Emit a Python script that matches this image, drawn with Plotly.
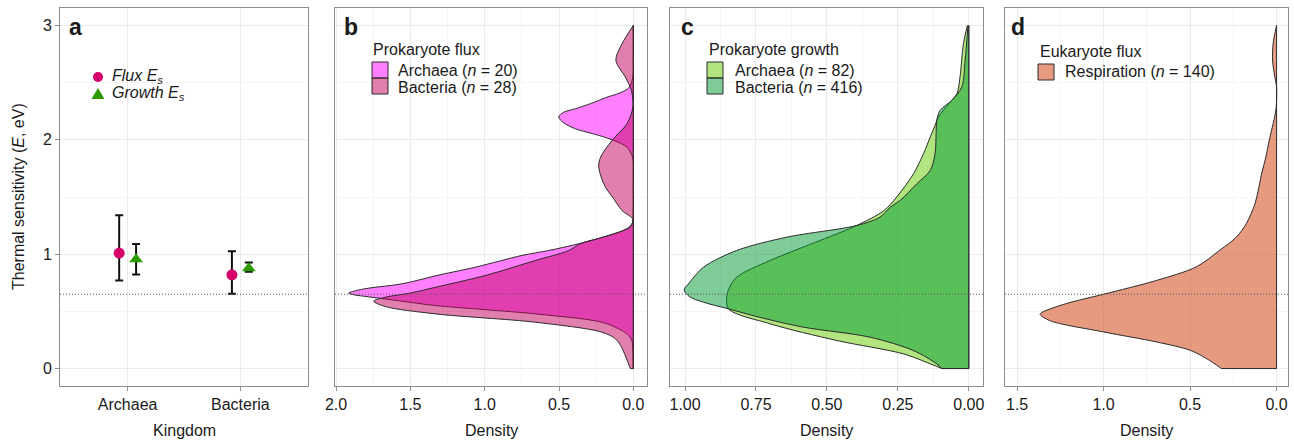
import plotly.graph_objects as go

W, H = 1294, 441

# ---------------- data ----------------
# Panel a: thermal sensitivity by kingdom
kingdoms = ["Archaea", "Bacteria"]
flux_es = [1.01, 0.82]
flux_lo = [0.77, 0.655]
flux_hi = [1.34, 1.025]
growth_es = [0.955, 0.878]
growth_lo = [0.822, 0.846]
growth_hi = [1.09, 0.927]
ref_e = 0.65

# Panel b: prokaryote flux densities (E, density)
arch_flux_e = [0.0, 0.2, 0.245, 0.3, 0.347, 0.405, 0.478, 0.551, 0.6, 0.627, 0.645, 0.659,
               0.68, 0.703, 0.741, 0.82, 0.886, 0.94, 0.989, 1.032, 1.06, 1.1, 1.15, 1.2,
               1.24, 1.28, 1.4, 1.6, 1.8, 1.849, 1.936, 1.995, 2.039, 2.097, 2.15, 2.199,
               2.24, 2.272, 2.32, 2.368, 2.41, 2.456, 2.55, 2.7, 3.0]
arch_flux_d = [0.0, 0.005, 0.01, 0.04, 0.099, 0.211, 0.659, 1.33, 1.62, 1.78, 1.88, 1.915,
               1.87, 1.78, 1.556, 1.3, 1.063, 0.9, 0.749, 0.57, 0.47, 0.34, 0.2, 0.08,
               0.025, 0.005, 0.0, 0.0, 0.0, 0.005, 0.043, 0.132, 0.233, 0.39, 0.47, 0.502,
               0.47, 0.39, 0.28, 0.188, 0.09, 0.03, 0.003, 0.0, 0.0]
bact_flux_e = [0.0, 0.1, 0.2, 0.26, 0.318, 0.405, 0.478, 0.542, 0.589, 0.624, 0.66,
               0.711, 0.814, 0.945, 1.032, 1.093, 1.15, 1.21, 1.236, 1.27, 1.31, 1.382,
               1.5, 1.586, 1.761, 1.849, 1.995, 2.14, 2.286, 2.432, 2.549, 2.695, 2.84, 3.0]
bact_flux_d = [0.02, 0.05, 0.085, 0.12, 0.211, 0.659, 1.33, 1.668, 1.746, 1.668, 1.5,
               1.33, 0.995, 0.659, 0.435, 0.354, 0.2, 0.063, 0.02, 0.005, 0.005, 0.076,
               0.14, 0.188, 0.233, 0.22, 0.143, 0.043, 0.003, 0.013, 0.054, 0.117, 0.076, 0.0]

# Panel c: prokaryote growth densities
arch_growth_e = [0.0, 0.041, 0.128, 0.245, 0.391, 0.522, 0.624, 0.7, 0.799, 0.945, 1.12,
                 1.251, 1.38, 1.5, 1.703, 1.878, 2.024, 2.126, 2.199, 2.33, 2.403, 2.549,
                 2.84, 3.0]
arch_growth_d = [0.095, 0.136, 0.23, 0.465, 0.7, 0.847, 0.853, 0.845, 0.818, 0.7, 0.524,
                 0.395, 0.3, 0.254, 0.195, 0.16, 0.136, 0.119, 0.107, 0.066, 0.042, 0.031,
                 0.019, 0.005]
bact_growth_e = [0.0, 0.041, 0.157, 0.274, 0.362, 0.45, 0.522, 0.58, 0.63, 0.688, 0.75,
                 0.886, 1.032, 1.149, 1.251, 1.324, 1.411, 1.47, 1.616, 1.732, 1.878, 2.082,
                 2.17, 2.257, 2.345, 2.461, 2.695, 3.0]
bact_growth_d = [0.095, 0.113, 0.195, 0.348, 0.583, 0.74, 0.847, 0.935, 0.985, 1.003, 0.985,
                 0.935, 0.818, 0.641, 0.395, 0.313, 0.277, 0.242, 0.183, 0.136, 0.119, 0.115,
                 0.113, 0.101, 0.06, 0.025, 0.013, 0.003]

# Panel d: eukaryote respiration density
resp_e = [0.0, 0.087, 0.16, 0.233, 0.32, 0.42, 0.475, 0.495, 0.568, 0.65, 0.77, 0.89, 1.035,
          1.15, 1.27, 1.44, 1.56, 1.70, 1.85, 2.0, 2.14, 2.26, 2.46, 2.55, 2.69, 2.84, 3.0]
resp_d = [0.318, 0.405, 0.50, 0.695, 1.0, 1.313, 1.367, 1.351, 1.216, 1.0, 0.695, 0.463,
          0.328, 0.232, 0.174, 0.125, 0.106, 0.087, 0.062, 0.042, 0.02, 0.004, 0.0, 0.01,
          0.023, 0.02, 0.0]

# ---------------- style ----------------
FONT = "Liberation Sans, Arial, sans-serif"
TXT = "#1a1a1a"
GRID = "#EBEBEB"
MINOR = "#F5F5F5"
BORDER = "#8c8c8c"
OUTLINE = "#2b2b2b"
COL_FLUX = "#D6006B"
COL_GROWTH = "#2E9A00"
C_ARCH_FLUX = "rgba(255,0,255,0.5)"
C_BACT_FLUX = "rgba(196,0,96,0.5)"
C_ARCH_GROW = "rgba(102,204,0,0.5)"
C_BACT_GROW = "rgba(0,153,51,0.5)"
C_RESP = "rgba(213,87,43,0.6)"


def fx(px):
    return px / W


def fy(py):
    return 1 - py / H


panels = [(60, 308), (335, 647), (670, 983), (1005, 1288)]
y_dom = [fy(385.7), fy(8.3)]
dodge = 0.075

fig = go.Figure()

# ---- panel a ----
xa = [i + 1 for i in range(len(kingdoms))]
fig.add_trace(go.Scatter(
    x=[v - dodge for v in xa], y=flux_es, mode="markers",
    marker=dict(symbol="circle", size=11, color=COL_FLUX),
    error_y=dict(type="data", symmetric=False,
                 array=[h - m for h, m in zip(flux_hi, flux_es)],
                 arrayminus=[m - l for m, l in zip(flux_es, flux_lo)],
                 color="#111111", thickness=2, width=4),
    xaxis="x", yaxis="y", showlegend=False, hoverinfo="skip"))
fig.add_trace(go.Scatter(
    x=[v + dodge for v in xa], y=growth_es, mode="markers",
    marker=dict(symbol="triangle-up", size=12, color=COL_GROWTH),
    error_y=dict(type="data", symmetric=False,
                 array=[h - m for h, m in zip(growth_hi, growth_es)],
                 arrayminus=[m - l for m, l in zip(growth_es, growth_lo)],
                 color="#111111", thickness=2, width=4),
    xaxis="x", yaxis="y", showlegend=False, hoverinfo="skip"))


def add_density(d, e, fill, ax):
    xr, yr = ("x" + ax, "y" + ax)
    fig.add_trace(go.Scatter(
        x=d, y=e, mode="lines", fill="tozerox", fillcolor=fill,
        line=dict(color=OUTLINE, width=1, shape="spline", smoothing=0.9),
        xaxis=xr, yaxis=yr, showlegend=False, hoverinfo="skip"))
    # closing edges of the density polygon (baseline at density 0, bottom at E min)
    fig.add_trace(go.Scatter(
        x=[d[0], 0, 0], y=[e[0], e[0], e[-1]], mode="lines",
        line=dict(color=OUTLINE, width=1),
        xaxis=xr, yaxis=yr, showlegend=False, hoverinfo="skip"))


add_density(arch_flux_d, arch_flux_e, C_ARCH_FLUX, "2")
add_density(bact_flux_d, bact_flux_e, C_BACT_FLUX, "2")
add_density(arch_growth_d, arch_growth_e, C_ARCH_GROW, "3")
add_density(bact_growth_d, bact_growth_e, C_BACT_GROW, "3")
add_density(resp_d, resp_e, C_RESP, "4")

# ---------------- axes ----------------
tickfont = dict(family=FONT, size=16, color=TXT)


def yaxis(anchor, labels):
    return dict(domain=y_dom, anchor=anchor, range=[-0.15, 3.15],
                tickvals=[0, 1, 2, 3], showticklabels=labels,
                ticks="outside" if labels else "", ticklen=4, tickcolor=BORDER,
                tickfont=tickfont, showgrid=True, gridcolor=GRID, gridwidth=1,
                minor=dict(dtick=0.5, tick0=0, showgrid=True, gridcolor=MINOR, gridwidth=1),
                zeroline=False, showline=True, mirror=True, linecolor=BORDER, linewidth=1,
                automargin=False)


def xaxis(i, anchor, **kw):
    base = dict(domain=[fx(panels[i][0]), fx(panels[i][1])], anchor=anchor,
                ticks="outside", ticklen=4, tickcolor=BORDER, tickfont=tickfont,
                showgrid=True, gridcolor=GRID, gridwidth=1, zeroline=False,
                showline=True, mirror=True, linecolor=BORDER, linewidth=1,
                automargin=False)
    base.update(kw)
    return base


fig.update_layout(
    width=W, height=H, margin=dict(l=0, r=0, t=0, b=0, pad=0),
    paper_bgcolor="white", plot_bgcolor="white",
    font=dict(family=FONT, color=TXT),
    xaxis=xaxis(0, "y", range=[0.4, 2.6], tickvals=xa, ticktext=kingdoms),
    yaxis=yaxis("x", True),
    xaxis2=xaxis(1, "y2", range=[2.007, -0.092], tick0=0, dtick=0.5, tickformat=".1f",
                 minor=dict(dtick=0.25, tick0=0, showgrid=True, gridcolor=MINOR)),
    yaxis2=yaxis("x2", False),
    xaxis3=xaxis(2, "y3", range=[1.053, -0.05], tick0=0, dtick=0.25, tickformat=".2f",
                 minor=dict(dtick=0.125, tick0=0, showgrid=True, gridcolor=MINOR)),
    yaxis3=yaxis("x3", False),
    xaxis4=xaxis(3, "y4", range=[1.57, -0.066], tick0=0, dtick=0.5, tickformat=".1f",
                 minor=dict(dtick=0.25, tick0=0, showgrid=True, gridcolor=MINOR)),
    yaxis4=yaxis("x4", False),
)

shapes = []
# reference line at E = 0.65 in every panel
for i in range(4):
    s = "" if i == 0 else str(i + 1)
    shapes.append(dict(type="line", xref=f"x{s} domain", yref=f"y{s}", x0=0, x1=1,
                       y0=ref_e, y1=ref_e, line=dict(color="#555555", width=1, dash="1px,2px"),
                       layer="above"))

annotations = []


def text(px, py, t, size=16, anchor="left", **kw):
    annotations.append(dict(x=fx(px), y=fy(py), xref="paper", yref="paper", text=t,
                            showarrow=False, xanchor=anchor, yanchor="middle",
                            font=dict(family=FONT, size=size, color=TXT), **kw))


def swatch(x0, y0, x1, y1, fill):
    shapes.append(dict(type="rect", xref="paper", yref="paper", x0=fx(x0), x1=fx(x1),
                       y0=fy(y1), y1=fy(y0), fillcolor=fill,
                       line=dict(color=OUTLINE, width=1)))


# panel letters
for px, lab in [(67, "a"), (342, "b"), (679, "c"), (1009, "d")]:
    text(px, 27, f"<b>{lab}</b>", size=23)

# axis titles
text((60 + 308) / 2, 430, "Kingdom", anchor="center")
for i in range(1, 4):
    text((panels[i][0] + panels[i][1]) / 2, 430, "Density", anchor="center")
annotations.append(dict(x=fx(18), y=fy(197), xref="paper", yref="paper",
                        text="Thermal sensitivity (<i>E</i>, eV)", textangle=-90,
                        showarrow=False, xanchor="center", yanchor="middle",
                        font=dict(family=FONT, size=16, color=TXT)))

# panel a legend
shapes.append(dict(type="circle", xref="paper", yref="paper", x0=fx(93), x1=fx(103),
                   y0=fy(82), y1=fy(72), fillcolor=COL_FLUX, line=dict(width=0)))
shapes.append(dict(type="path", xref="paper", yref="paper",
                   path=f"M {fx(98)} {fy(88)} L {fx(104.5)} {fy(99)} L {fx(91.5)} {fy(99)} Z",
                   fillcolor=COL_GROWTH, line=dict(width=0)))
text(110, 76, "<i>Flux E<sub>s</sub></i>")
text(110, 94, "<i>Growth E<sub>s</sub></i>")

# panel b legend
text(371, 49, "Prokaryote flux")
swatch(372, 62, 388, 78, C_ARCH_FLUX)
swatch(372, 78, 388, 94, C_BACT_FLUX)
text(396, 70, "Archaea (<i>n</i> = 20)")
text(396, 87, "Bacteria (<i>n</i> = 28)")

# panel c legend
text(707, 49, "Prokaryote growth")
swatch(707, 62, 723, 78, C_ARCH_GROW)
swatch(707, 78, 723, 94, C_BACT_GROW)
text(733, 70, "Archaea (<i>n</i> = 82)")
text(733, 87, "Bacteria (<i>n</i> = 416)")

# panel d legend
text(1038, 51, "Eukaryote flux")
swatch(1038, 64, 1054, 80, C_RESP)
text(1063, 72, "Respiration (<i>n</i> = 140)")

fig.update_layout(shapes=shapes, annotations=annotations)
fig.write_html("out.html", config={"displayModeBar": False},
               post_script="document.body.style.margin='0';"
                           "document.body.style.overflow='hidden';")
